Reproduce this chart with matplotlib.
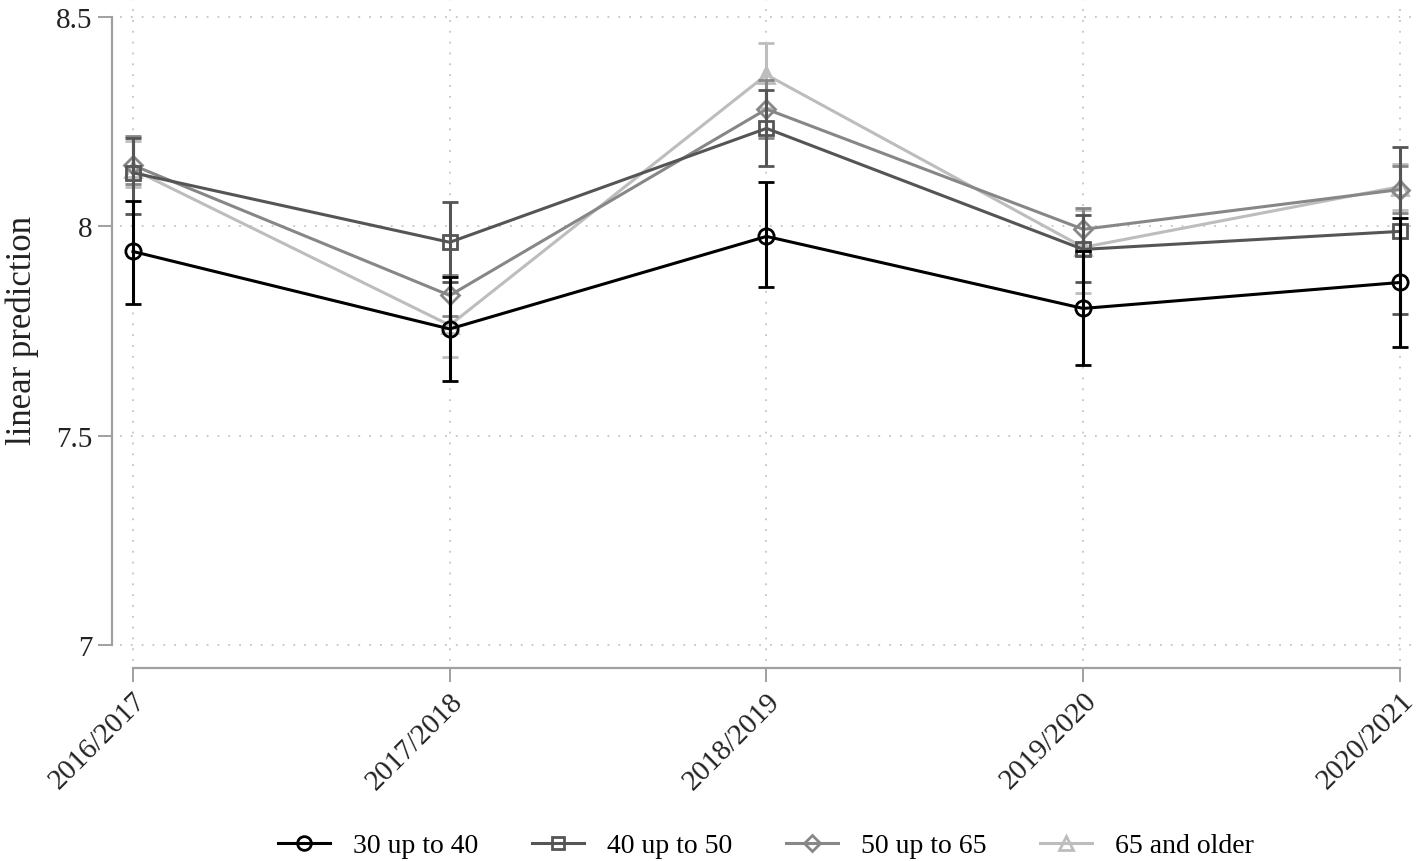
"""
Linear prediction by age group and season, Stata-style marginsplot look.
"""
import matplotlib
matplotlib.use('Agg')
import matplotlib.pyplot as plt
from matplotlib.lines import Line2D

plt.rcParams['font.family'] = ['Liberation Serif', 'DejaVu Serif']

# data
seasons = ['2016/2017', '2017/2018', '2018/2019', '2019/2020', '2020/2021']
groups = ['30 up to 40', '40 up to 50', '50 up to 65', '65 and older']

pred_30_40 = [7.940, 7.755, 7.976, 7.804, 7.866]
lo_30_40 = [7.815, 7.630, 7.854, 7.668, 7.711]
hi_30_40 = [8.060, 7.880, 8.105, 7.940, 8.021]

pred_40_50 = [8.128, 7.962, 8.234, 7.945, 7.988]
lo_40_50 = [8.030, 7.867, 8.143, 7.866, 7.790]
hi_40_50 = [8.210, 8.057, 8.325, 8.026, 8.189]

pred_50_65 = [8.146, 7.835, 8.280, 7.993, 8.088]
lo_50_65 = [8.100, 7.787, 8.210, 7.940, 8.033]
hi_50_65 = [8.215, 7.883, 8.350, 8.045, 8.143]

pred_65 = [8.136, 7.764, 8.362, 7.950, 8.095]
lo_65 = [8.095, 7.687, 8.283, 7.842, 8.040]
hi_65 = [8.205, 7.840, 8.437, 8.040, 8.150]

preds = [pred_30_40, pred_40_50, pred_50_65, pred_65]
los = [lo_30_40, lo_40_50, lo_50_65, lo_65]
his = [hi_30_40, hi_40_50, hi_50_65, hi_65]

colors = ['#000000', '#555555', '#878787', '#bdbdbd']
markers = ['o', 's', 'D', '^']
msizes = [11, 10, 9.5, 11]

W, H = 1416, 862
fig = plt.figure(figsize=(W / 100, H / 100), dpi=100)
ax = fig.add_axes([120 / W, 1 - 662 / H, (W - 120) / W, 662 / H])

x = list(range(len(seasons)))
handles = []
for i in range(len(groups)):
    yerr = [[p - l for p, l in zip(preds[i], los[i])],
            [h - p for p, h in zip(preds[i], his[i])]]
    ax.errorbar(x, preds[i], yerr=yerr, color=colors[i], lw=2.2,
                marker=markers[i], ms=msizes[i],
                mfc='none', mec=colors[i], mew=2.0,
                capsize=5.5, capthick=2.2, elinewidth=2.2,
                zorder=5 - i)
    handles.append(Line2D([], [], color=colors[i], lw=2.2, marker=markers[i],
                          ms=msizes[i] * 0.9, mfc='none', mec=colors[i],
                          mew=2.0, label=groups[i]))

ax.set_xlim(-0.041, 4.0505)
ax.set_ylim(6.962, 8.543)
ax.set_xticks(x)
ax.set_xticklabels(seasons)
ax.set_yticks([7, 7.5, 8, 8.5])
ax.set_yticklabels(['7', '7.5', '8', '8.5'])

ax.grid(True, color='#c4c4c4', linestyle=(0, (1, 5)), lw=1.3)
ax.set_axisbelow(True)

for s in ['top', 'right']:
    ax.spines[s].set_visible(False)
ax.spines['left'].set_position(('outward', 6))
ax.spines['bottom'].set_position(('outward', 5))
ax.spines['left'].set_bounds(7, 8.5)
ax.spines['bottom'].set_bounds(0, 4)
for s in ['left', 'bottom']:
    ax.spines[s].set_color('#a0a0a0')
    ax.spines[s].set_linewidth(1.6)

ax.tick_params(axis='both', color='#a0a0a0', width=1.4, length=10,
               labelsize=21, labelcolor='#222222', pad=4)
for lab in ax.get_xticklabels():
    lab.set_rotation(45)
    lab.set_ha('right')
    lab.set_rotation_mode('anchor')

ax.set_ylabel('linear prediction', fontsize=25, color='#222222', labelpad=12)

fig.legend(handles=handles, loc='lower center', bbox_to_anchor=(0.541, -0.026),
           ncol=4, frameon=False, fontsize=20, handlelength=1.85,
           columnspacing=1.95, handletextpad=0.83)

fig.savefig('out.png', dpi=100, facecolor='white')
